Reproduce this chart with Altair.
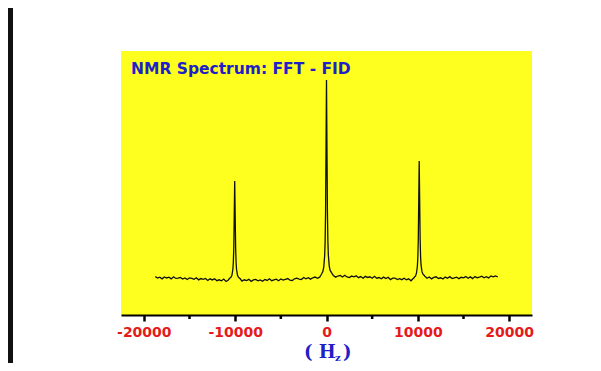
import altair as alt
import pandas as pd

# ---------------- data ----------------
# baseline samples (Hz grid) and intensities (% of the tallest peak)
seg1_hz = list(range(-18750, -10749, 250))
seg1_val = [0.75, -0.08, 0.39, -0.45, 0.52, -0.01, 0.36, -0.47, 0.6, -0.24,
            -0.07, 0.3, -0.53, 0.03, -0.8, 0.07, -0.18, -0.64, 0.11, -0.95,
            -0.3, -0.66, -0.22, -1.27, -0.43, -1.0, -0.38, -1.35, -0.92, -1.4,
            -0.57, -1.75, -1.05]
seg2_hz = list(range(-9250, -749, 250))
seg2_val = [-1.62, -0.91, -1.3, -0.7, -1.7, -0.97, -0.75, -1.43, -1.0, -1.68,
            -0.76, -1.24, -0.42, -1.39, -0.96, -0.63, -1.4, -0.47, -1.04, -0.72,
            -0.29, -1.06, -1.27, -0.4, -0.12, -0.54, -0.77, 0.21, -0.44, 0.14,
            -0.59, 0.08, 0.46, -0.17, 0.4]
seg3_hz = list(range(750, 9251, 250))
seg3_val = [1.26, 0.42, 0.99, 1.25, 0.51, 1.37, 0.53, 0.19, 0.95, 0.61,
            1.07, 0.13, 0.69, -0.15, 0.8, 0.26, 0.61, -0.13, 0.82, -0.12,
            0.23, -0.42, 0.42, -0.26, 0.37, -0.8, -0.07, -0.04, -0.81, -0.37,
            -0.86, -0.15, -0.95, -0.45, -1.44]
seg4_hz = list(range(11000, 18751, 250))
seg4_val = [-0.17, 0.49, -0.45, 0.31, 0.58, -0.26, 0.1, -0.48, 0.43, -0.15,
            0.67, -0.31, 0.1, 0.42, -0.36, 0.35, 0.08, 0.7, -0.18, 0.55,
            -0.33, 0.69, 0.11, 0.44, 0.87, 0.12, 0.68, 0.03, 0.99, 0.54,
            1.0, 0.55]

# peaks: offsets from each peak centre (Hz) and the intensities there
peak_offsets = [-600, -400, -300, -200, -150, -100, -50, 0, 50, 100, 150, 200, 300, 400, 600]
peak_a_center = -10050
peak_a_val = [-0.4, 0.4, 1.5, 4.4, 7.9, 15.4, 31.9, 49.0, 31.9, 15.4, 7.9, 4.4, 1.5, 0.4, -0.4]
peak_b_center = 0
peak_b_val = [1.5, 3.2, 5.5, 11.3, 18.3, 33.4, 66.7, 100.0, 66.9, 33.6, 18.6, 11.7, 6.0, 3.8, 2.3]
peak_c_center = 10150
peak_c_val = [0.0, 1.0, 2.4, 5.9, 10.2, 19.2, 39.2, 59.1, 39.8, 20.0, 11.0, 6.7, 3.3, 2.0, 1.0]

major_ticks = [-20000, -10000, 0, 10000, 20000]
minor_ticks = [-15000, -5000, 5000, 15000]

title_text = "NMR Spectrum: FFT - FID"
xtitle_main = "( H"
xtitle_sub = "z"
xtitle_end = ")"

# ---------------- build table ----------------
assert len(seg1_hz) == len(seg1_val)
assert len(seg2_hz) == len(seg2_val)
assert len(seg3_hz) == len(seg3_val)
assert len(seg4_hz) == len(seg4_val)

hz = seg1_hz + seg2_hz + seg3_hz + seg4_hz
val = seg1_val + seg2_val + seg3_val + seg4_val
for c, vals in [(peak_a_center, peak_a_val), (peak_b_center, peak_b_val), (peak_c_center, peak_c_val)]:
    hz += [c + o for o in peak_offsets]
    val += vals
df = pd.DataFrame({"hz": hz, "inten": val}).sort_values("hz").reset_index(drop=True)

one = pd.DataFrame({"a": [0]})
ticks_df = pd.DataFrame({"hz": minor_ticks})

YELLOW = "#FFFF1F"
BLUE = "#2020C8"
RED = "#E51A1A"

W, H = 411, 264

x_axis = alt.Axis(
    values=major_ticks,
    labelExpr="datum.value < 0 ? '-' + format(-datum.value, 'd') : format(datum.value, 'd')",
    labelColor=RED, labelFont="DejaVu Sans", labelFontWeight="bold", labelFontSize=14,
    labelPadding=4, labelFlush=False,
    tickSize=6, tickWidth=2.5, tickColor="black",
    domainColor="black", domainWidth=2, grid=False, title=None,
)

line = alt.Chart(df).mark_line(color="#111111", strokeWidth=1.3).encode(
    x=alt.X("hz:Q", scale=alt.Scale(domain=[-22500, 22500], nice=False, zero=False), axis=x_axis, title=None),
    y=alt.Y("inten:Q", scale=alt.Scale(domain=[-18.7, 114.6], nice=False, zero=False), axis=None),
    order="hz:Q",
)

minor = alt.Chart(ticks_df).mark_rule(color="black", strokeWidth=2.5).encode(
    x=alt.X("hz:Q", title=None),
    y=alt.value(H),
    y2=alt.value(H + 4),
)

title_mark = alt.Chart(one).mark_text(
    text=title_text, align="left", baseline="alphabetic",
    font="DejaVu Sans", fontWeight="bold", fontSize=15.5, color=BLUE,
).encode(x=alt.value(10), y=alt.value(23))

xt1 = alt.Chart(one).mark_text(
    text=xtitle_main, align="left", baseline="alphabetic",
    font="DejaVu Serif", fontWeight="bold", fontSize=18, color=BLUE,
).encode(x=alt.value(183), y=alt.value(H + 43))

xt2 = alt.Chart(one).mark_text(
    text=xtitle_sub, align="left", baseline="alphabetic",
    font="DejaVu Serif", fontWeight="bold", fontSize=10, color=BLUE,
).encode(x=alt.value(214), y=alt.value(H + 46))

xt3 = alt.Chart(one).mark_text(
    text=xtitle_end, align="left", baseline="alphabetic",
    font="DejaVu Serif", fontWeight="bold", fontSize=18, color=BLUE,
).encode(x=alt.value(222), y=alt.value(H + 43))

strip = alt.Chart(one).mark_rect(color="#111111").encode(
    x=alt.value(-113), x2=alt.value(-108), y=alt.value(-43), y2=alt.value(H + 48),
)

chart = alt.layer(strip, line, minor, title_mark, xt1, xt2, xt3).properties(
    width=W, height=H,
    autosize=alt.AutoSizeParams(type="none"),
    padding={"left": 113, "top": 43, "right": 61, "bottom": 48},
    background="white",
).configure_view(fill=YELLOW, strokeWidth=0)

chart.save("out.html", embed_options={"renderer": "svg", "actions": False})
